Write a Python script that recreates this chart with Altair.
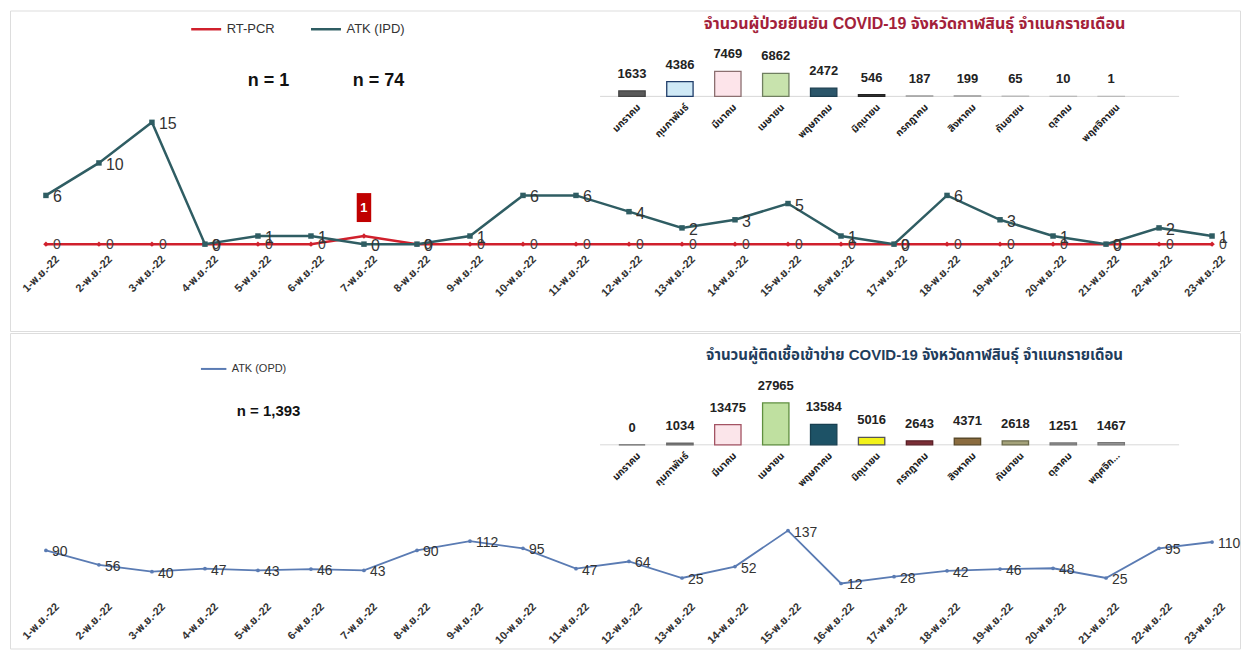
import altair as alt
import pandas as pd

# ---------------- data ----------------
dates = [f"{d}-พ.ย.-22" for d in range(1, 24)]
rt_pcr = [0, 0, 0, 0, 0, 0, 1, 0, 0, 0, 0, 0, 0, 0, 0, 0, 0, 0, 0, 0, 0, 0, 0]
atk_ipd = [6, 10, 15, 0, 1, 1, 0, 0, 1, 6, 6, 4, 2, 3, 5, 1, 0, 6, 3, 1, 0, 2, 1]
atk_opd = [90, 56, 40, 47, 43, 46, 43, 90, 112, 95, 47, 64, 25, 52, 137, 12, 28, 42, 46, 48, 25, 95, 110]

months = ["มกราคม", "กุมภาพันธ์", "มีนาคม", "เมษายน", "พฤษภาคม", "มิถุนายน",
          "กรกฎาคม", "สิงหาคม", "กันยายน", "ตุลาคม", "พฤศจิกายน"]
months_bottom_labels = ["มกราคม", "กุมภาพันธ์", "มีนาคม", "เมษายน", "พฤษภาคม", "มิถุนายน",
                        "กรกฎาคม", "สิงหาคม", "กันยายน", "ตุลาคม", "พฤศจิก..."]
confirmed = [1633, 4386, 7469, 6862, 2472, 546, 187, 199, 65, 10, 1]
suspected = [0, 1034, 13475, 27965, 13584, 5016, 2643, 4371, 2618, 1251, 1467]

series_top = ["RT-PCR", "ATK (IPD)"]
series_bottom = ["ATK (OPD)"]
title_top = "จำนวนผู้ป่วยยืนยัน COVID-19 จังหวัดกาฬสินธุ์ จำแนกรายเดือน"
title_bottom = "จำนวนผู้ติดเชื้อเข้าข่าย COVID-19 จังหวัดกาฬสินธุ์ จำแนกรายเดือน"
n_top = ["n = 1", "n = 74"]
n_bottom = ["n = 1,393"]

# ---------------- styles ----------------
FONT = "Liberation Sans, Arial, Noto Sans Thai, Noto Sans, sans-serif"
RED = "#d0202c"
TEAL = "#2f5d63"
BLUE = "#5a7bb3"
W = 1232
H_TOP = 321
H_BOT = 316

top_fills = ["#5a5a5a", "#cfe9f6", "#fde4ea", "#c8e3ad", "#2b566a", "#3a3a3a",
             "#c9c9c9", "#c9c9c9", "#d0d0d0", "#d0d0d0", "#d0d0d0"]
top_strokes = ["#444444", "#203d6a", "#8c6f70", "#6f7f60", "#1d3f50", "#222222",
               "#aaaaaa", "#aaaaaa", "#bbbbbb", "#bbbbbb", "#bbbbbb"]
bot_fills = ["#888888", "#808080", "#fbe5ea", "#bfe0a0", "#1d5266", "#f2f21a",
             "#7a2e36", "#8b6c3f", "#a4a27a", "#8e8e8e", "#9a9a9a"]
bot_strokes = ["#666666", "#6a6a6a", "#a35363", "#5f8f3f", "#173f50", "#555555",
               "#5a1e26", "#5a4a2a", "#6a6a4a", "#777777", "#777777"]


def date_x(offset):
    return alt.X(
        "date:O",
        sort=dates,
        scale=alt.Scale(type="point", domain=dates, range=[36, 1204], padding=0),
        axis=alt.Axis(title=None, labelAngle=-45, domain=False, ticks=False, grid=False,
                      offset=offset, labelFont=FONT, labelFontSize=11, labelFontWeight="bold",
                      labelColor="#333333", labelPadding=2, labelOverlap=False,
                      labelOffset=7),
    )


def inset(values, labels, fills, strokes, title, title_color, baseline, title_y, title_size,
          px_per_unit):
    df = pd.DataFrame({"month": months, "count": values, "lbl": labels})
    top_val = max(values)
    xs = alt.X("month:N", sort=months,
               scale=alt.Scale(type="band", domain=months, range=[599, 1127],
                               paddingInner=0.45, paddingOuter=0.225),
               axis=None)
    ys = alt.Y("count:Q",
               scale=alt.Scale(domain=[0, top_val], range=[baseline, baseline - top_val * px_per_unit],
                               nice=False, zero=True),
               axis=None)
    base = alt.Chart(df)
    rule = alt.Chart(pd.DataFrame({"a": [0]})).mark_rule(color="#d8d8d8", strokeWidth=1).encode(
        x=alt.value(591), x2=alt.value(1171), y=alt.value(baseline))
    bars = base.mark_bar(strokeWidth=1.3).encode(
        x=xs, y=ys,
        fill=alt.Fill("month:N", scale=alt.Scale(domain=months, range=fills), legend=None),
        stroke=alt.Stroke("month:N", scale=alt.Scale(domain=months, range=strokes), legend=None),
    )
    vals = base.mark_text(baseline="bottom", dy=-10, font=FONT, fontSize=13,
                          fontWeight="bold", color="#222222").encode(
        x=xs, y=ys, text="count:Q")
    mlab = base.mark_text(angle=315, align="right", baseline="middle", font=FONT, fontSize=10,
                          fontWeight="bold", color="#222222", dx=4, dy=6).encode(
        x=xs, y=alt.value(baseline + 8), text="lbl:N")
    ttl = alt.Chart(pd.DataFrame({"t": [title]})).mark_text(
        font=FONT, fontSize=title_size, fontWeight="bold", color=title_color).encode(
        x=alt.value(906), y=alt.value(title_y), text="t:N")
    return alt.layer(rule, bars, vals, mlab, ttl)


# ---------------- top panel ----------------
top_df = pd.DataFrame({
    "date": dates * 2,
    "series": [series_top[0]] * len(dates) + [series_top[1]] * len(dates),
    "value": rt_pcr + atk_ipd,
})
xt = date_x(-80)
yt = alt.Y("value:Q", scale=alt.Scale(domain=[0, 15], range=[234, 112], nice=False), axis=None)
ct = alt.Color("series:N", scale=alt.Scale(domain=series_top, range=[RED, TEAL]),
               legend=alt.Legend(orient="none", legendX=180, legendY=2, direction="horizontal",
                                 title=None, symbolType="stroke", symbolStrokeWidth=2.5,
                                 symbolSize=900, labelFont=FONT, labelFontSize=13,
                                 labelColor="#333333", columnPadding=30))
tb = alt.Chart(top_df)
t_line = tb.mark_line(strokeWidth=2.5).encode(x=xt, y=yt, color=ct)
t_pts_rt = tb.transform_filter(alt.datum.series == "RT-PCR").mark_point(
    filled=True, opacity=1, size=30, shape="diamond", color=RED).encode(x=xt, y=yt)
t_pts_atk = tb.transform_filter(alt.datum.series == "ATK (IPD)").mark_point(
    filled=True, opacity=1, size=30, shape="square", color=TEAL).encode(x=xt, y=yt)
t_txt_atk = tb.transform_filter(alt.datum.series == "ATK (IPD)").mark_text(
    align="left", dx=7, dy=2, font=FONT, fontSize=16, color="#333333").encode(
    x=xt, y=yt, text="value:Q")
t_txt_rt = tb.transform_filter((alt.datum.series == "RT-PCR") & (alt.datum.value == 0)).mark_text(
    align="left", dx=7, dy=1, font=FONT, fontSize=14, color="#444444").encode(
    x=xt, y=yt, text="value:Q")
t_box = tb.transform_filter((alt.datum.series == "RT-PCR") & (alt.datum.value > 0)).mark_point(
    shape="M-1.45,-8.6L1.45,-8.6L1.45,-2.8L-1.45,-2.8Z", size=100, filled=True, opacity=1,
    color="#c00000").encode(x=xt, y=yt)
t_box_txt = tb.transform_filter((alt.datum.series == "RT-PCR") & (alt.datum.value > 0)).mark_text(
    dy=-28, font=FONT, fontSize=13, fontWeight="bold", color="white").encode(
    x=xt, y=yt, text="value:Q")
t_n1 = alt.Chart(pd.DataFrame({"t": [n_top[0]]})).mark_text(
    font=FONT, fontSize=18, fontWeight="bold", color="#111111").encode(
    x=alt.value(259), y=alt.value(71), text="t:N")
t_n2 = alt.Chart(pd.DataFrame({"t": [n_top[1]]})).mark_text(
    font=FONT, fontSize=18, fontWeight="bold", color="#111111").encode(
    x=alt.value(369), y=alt.value(71), text="t:N")

top_main = alt.layer(t_line, t_pts_rt, t_pts_atk, t_txt_rt, t_txt_atk, t_box, t_box_txt, t_n1, t_n2)
top_inset = inset(confirmed, months, top_fills, top_strokes, title_top, "#a3213a", 86, 14, 16,
                  25 / 7469)
top = alt.layer(top_main, top_inset).resolve_scale(
    x="independent", y="independent").properties(width=W, height=H_TOP)

# ---------------- bottom panel ----------------
bot_df = pd.DataFrame({"date": dates, "series": series_bottom * len(dates), "value": atk_opd})
xb = date_x(-50)
yb = alt.Y("value:Q", scale=alt.Scale(domain=[0, 137], range=[256, 256 - 137 * 0.424], nice=False),
           axis=None)
cb = alt.Color("series:N", scale=alt.Scale(domain=series_bottom, range=[BLUE]),
               legend=alt.Legend(orient="none", legendX=190, legendY=22, direction="horizontal",
                                 title=None, symbolType="stroke", symbolStrokeWidth=2,
                                 symbolSize=650, labelFont=FONT, labelFontSize=11,
                                 labelColor="#333333"))
bb = alt.Chart(bot_df)
b_line = bb.mark_line(strokeWidth=1.8).encode(x=xb, y=yb, color=cb)
b_pts = bb.mark_point(filled=True, opacity=1, size=14, color=BLUE).encode(x=xb, y=yb)
b_txt = bb.mark_text(align="left", dx=6, dy=2, font=FONT, fontSize=14, color="#333333").encode(
    x=xb, y=yb, text="value:Q")
b_n = alt.Chart(pd.DataFrame({"t": n_bottom})).mark_text(
    font=FONT, fontSize=15, fontWeight="bold", color="#111111").encode(
    x=alt.value(259), y=alt.value(78), text="t:N")
bot_main = alt.layer(b_line, b_pts, b_txt, b_n)
bot_inset = inset(suspected, months_bottom_labels, bot_fills, bot_strokes, title_bottom, "#1f3d5c",
                  112, 22, 15, 42 / 27965)
bottom = alt.layer(bot_main, bot_inset).resolve_scale(
    x="independent", y="independent").properties(width=W, height=H_BOT)

chart = alt.vconcat(top, bottom, spacing=0).resolve_scale(
    color="independent", fill="independent", stroke="independent"
).resolve_legend(color="independent").properties(
    padding=1, background="white"
).configure_view(stroke="#9a9a9a", strokeWidth=1.5).configure(font=FONT)

chart.save("out.html", embed_options={"renderer": "svg", "actions": False})
